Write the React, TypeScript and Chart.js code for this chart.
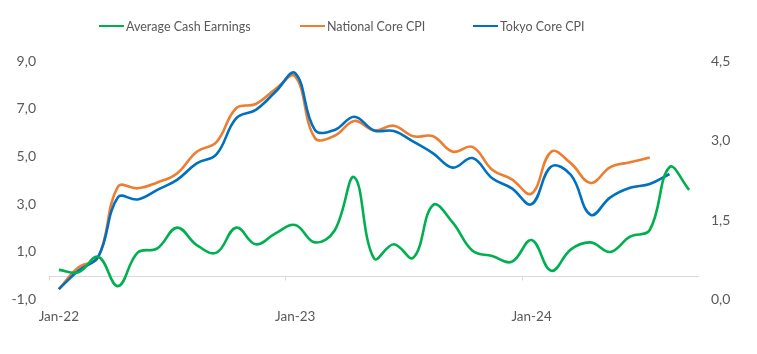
import React, { useEffect, useRef } from 'react';
import { Chart, registerables } from 'chart.js';

Chart.register(...registerables);

const categories = [
  'Jan-22', 'Feb-22', 'Mar-22', 'Apr-22', 'May-22', 'Jun-22', 'Jul-22', 'Aug-22', 'Sep-22', 'Oct-22', 'Nov-22', 'Dec-22',
  'Jan-23', 'Feb-23', 'Mar-23', 'Apr-23', 'May-23', 'Jun-23', 'Jul-23', 'Aug-23', 'Sep-23', 'Oct-23', 'Nov-23', 'Dec-23',
  'Jan-24', 'Feb-24', 'Mar-24', 'Apr-24', 'May-24', 'Jun-24', 'Jul-24', 'Aug-24', 'Sep-24',
];

const cashEarnings = [
  0.25, 0.15, 0.8, -0.43, 0.97, 1.15, 2.02, 1.29, 0.97, 2.02, 1.32, 1.78,
  2.13, 1.4, 1.9, 4.13, 0.73, 1.32, 0.76, 2.97, 2.23, 1.05, 0.83, 0.59,
  1.5, 0.21, 1.11, 1.4, 1.0, 1.64, 1.92, 4.55, 3.6,
];

const nationalCoreCPI = [
  0.2, 0.61, 0.8, 2.13, 2.1, 2.21, 2.38, 2.79, 2.97, 3.61, 3.69, 3.97,
  4.21, 3.05, 3.09, 3.37, 3.19, 3.28, 3.08, 3.08, 2.79, 2.88, 2.45, 2.27,
  2.0, 2.79, 2.57, 2.2, 2.5, 2.59, 2.68, null, null,
];

const tokyoCoreCPI = [
  0.2, 0.55, 0.81, 1.93, 1.89, 2.07, 2.26, 2.57, 2.74, 3.42, 3.58, 3.92,
  4.27, 3.2, 3.2, 3.45, 3.19, 3.18, 2.98, 2.76, 2.49, 2.67, 2.29, 2.1,
  1.8, 2.51, 2.35, 1.6, 1.93, 2.11, 2.18, 2.37, null,
];

const leftTickLabels = ['-1,0', '1,0', '3,0', '5,0', '7,0', '9,0'];
const rightTickLabels = ['0,0', '1,5', '3,0', '4,5'];
const xLabelEvery = 12;

const seriesNames = ['Average Cash Earnings', 'National Core CPI', 'Tokyo Core CPI'];
const seriesColors = ['#00B050', '#ED7D31', '#0070C0'];
const legendLeft = [99, 300, 473];

const FONT = 'Lato, "Liberation Sans", Arial, sans-serif';
const TEXT = '#595959';

export default function App() {
  const ref = useRef<HTMLCanvasElement>(null);

  useEffect(() => {
    if (!ref.current) return;
    const zeroLine = {
      id: 'zeroLine',
      beforeDatasetsDraw(chart: any) {
        const { ctx } = chart;
        const xs = chart.scales.x;
        const ys = chart.scales.y;
        const y0 = Math.round(ys.getPixelForValue(0)) + 0.5;
        ctx.save();
        ctx.strokeStyle = '#D9D9D9';
        ctx.lineWidth = 1;
        ctx.beginPath();
        ctx.moveTo(xs.left, y0);
        ctx.lineTo(xs.right, y0);
        for (let i = 0; i < categories.length; i += xLabelEvery) {
          const px = i === 0 ? xs.left : (xs.getPixelForValue(i - 1) + xs.getPixelForValue(i)) / 2;
          const r = Math.round(px) + 0.5;
          ctx.moveTo(r, y0);
          ctx.lineTo(r, y0 + 4);
        }
        ctx.stroke();
        ctx.restore();
      },
    };

    const chart = new Chart(ref.current, {
      type: 'line',
      data: {
        labels: categories,
        datasets: [
          {
            label: seriesNames[0],
            data: cashEarnings,
            borderColor: seriesColors[0],
            yAxisID: 'y',
            order: 0,
          },
          {
            label: seriesNames[1],
            data: nationalCoreCPI,
            borderColor: seriesColors[1],
            yAxisID: 'y1',
            order: 2,
          },
          {
            label: seriesNames[2],
            data: tokyoCoreCPI,
            borderColor: seriesColors[2],
            yAxisID: 'y1',
            order: 1,
          },
        ],
      },
      options: {
        animation: false,
        responsive: false,
        maintainAspectRatio: false,
        layout: { padding: { top: 61, left: 0, right: 0, bottom: 0 } },
        elements: {
          line: { borderWidth: 2.6, tension: 0.4, fill: false },
          point: { radius: 0, hoverRadius: 0 },
        },
        spanGaps: false,
        plugins: {
          legend: { display: false },
          tooltip: { enabled: false },
        },
        scales: {
          x: {
            type: 'category',
            offset: true,
            grid: { display: false, drawTicks: false },
            border: { display: false },
            afterFit(scale: any) {
              scale.height = 54.3;
            },
            ticks: {
              autoSkip: false,
              maxRotation: 0,
              padding: 9,
              color: TEXT,
              font: { family: FONT, size: 13.5 },
              callback: (_v: any, i: number) => (i % xLabelEvery === 0 ? categories[i] : ''),
            },
          },
          y: {
            position: 'left',
            min: -1,
            max: 9,
            grid: { display: false, drawTicks: false },
            border: { display: false },
            afterFit(scale: any) {
              scale.width = 49;
            },
            ticks: {
              stepSize: 2,
              padding: 13,
              color: TEXT,
              font: { family: FONT, size: 14 },
              callback: (_v: any, i: number) => leftTickLabels[i],
            },
          },
          y1: {
            position: 'right',
            min: 0,
            max: 4.5,
            grid: { display: false, drawTicks: false },
            border: { display: false },
            afterFit(scale: any) {
              scale.width = 58;
            },
            ticks: {
              stepSize: 1.5,
              padding: 12,
              color: TEXT,
              font: { family: FONT, size: 14 },
              callback: (_v: any, i: number) => rightTickLabels[i],
            },
          },
        },
      },
      plugins: [zeroLine],
    } as any);

    return () => chart.destroy();
  }, []);

  return (
    <div style={{ position: 'fixed', left: 0, top: 0, width: 757, height: 354, background: '#fff' }}>
      <canvas ref={ref} width={757} height={354} style={{ position: 'absolute', left: 0, top: 0, width: 757, height: 354 }} />
      {seriesNames.map((name, i) => (
        <div
          key={name}
          style={{
            position: 'absolute',
            left: legendLeft[i],
            top: 16,
            height: 20,
            display: 'flex',
            alignItems: 'center',
            whiteSpace: 'nowrap',
            fontFamily: FONT,
            fontSize: 12.5,
            color: TEXT,
          }}
        >
          <span style={{ display: 'inline-block', width: 25, height: 2.5, background: seriesColors[i], marginRight: 2 }} />
          <span>{name}</span>
        </div>
      ))}
    </div>
  );
}
